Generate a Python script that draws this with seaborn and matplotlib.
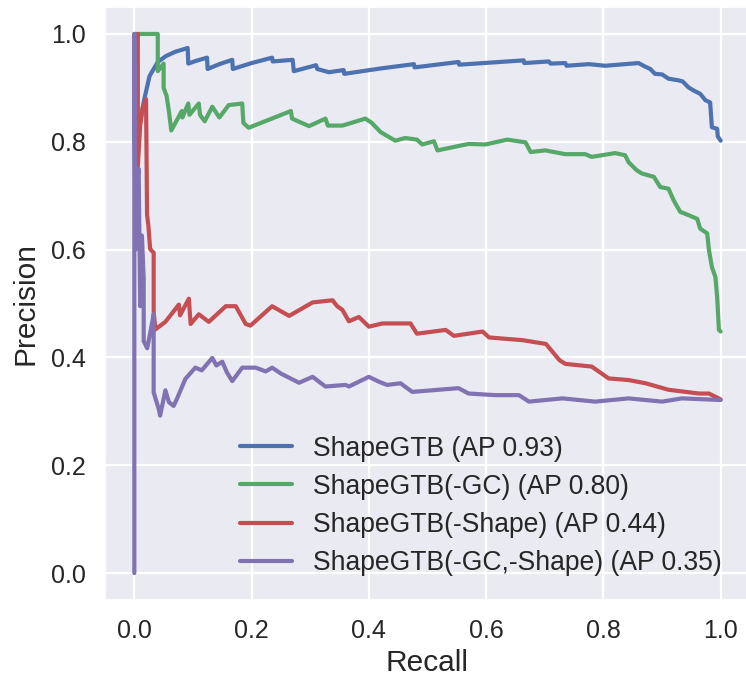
""" Precision-recall curves for ShapeGTB and its ablations. """

import matplotlib as mpl
mpl.use("Agg")
import matplotlib.pyplot as plt
import pandas as pd
import seaborn as sns

# ---- data ----
labels = ["ShapeGTB (AP 0.93)", "ShapeGTB(-GC) (AP 0.80)",
          "ShapeGTB(-Shape) (AP 0.44)", "ShapeGTB(-GC,-Shape) (AP 0.35)"]
colors = ["#4C72B0", "#55A868", "#C44E52", "#8172B2"]

full_recall = [0.0, 0.004, 0.0085, 0.017, 0.026, 0.04, 0.054, 0.07, 0.091, 0.092,
               0.105, 0.124, 0.125, 0.145, 0.167, 0.168, 0.2, 0.235, 0.236, 0.27,
               0.272, 0.31, 0.312, 0.332, 0.357, 0.358, 0.42, 0.477, 0.478, 0.553,
               0.554, 0.664, 0.665, 0.707, 0.71, 0.735, 0.737, 0.775, 0.803, 0.86,
               0.87, 0.88, 0.888, 0.9, 0.911, 0.928, 0.935, 0.945, 0.954, 0.965,
               0.974, 0.982, 0.985, 0.994, 0.995, 1.0]
full_precision = [1.0, 0.78, 0.829, 0.879, 0.922, 0.948, 0.959, 0.967, 0.974, 0.945,
                  0.95, 0.956, 0.935, 0.944, 0.952, 0.935, 0.946, 0.956, 0.949, 0.952,
                  0.931, 0.942, 0.935, 0.929, 0.933, 0.926, 0.936, 0.944, 0.938, 0.948,
                  0.943, 0.951, 0.946, 0.949, 0.945, 0.946, 0.941, 0.944, 0.941, 0.946,
                  0.94, 0.935, 0.926, 0.925, 0.917, 0.914, 0.912, 0.901, 0.895, 0.889,
                  0.877, 0.873, 0.827, 0.824, 0.81, 0.802]

nogc_recall = [0.0, 0.040, 0.040, 0.05, 0.05, 0.055, 0.059, 0.063, 0.081, 0.082,
               0.092, 0.094, 0.11, 0.112, 0.12, 0.133, 0.145, 0.161, 0.184, 0.186,
               0.195, 0.267, 0.269, 0.298, 0.326, 0.33, 0.355, 0.394, 0.405, 0.42,
               0.445, 0.462, 0.482, 0.491, 0.511, 0.517, 0.57, 0.599, 0.636, 0.667,
               0.676, 0.701, 0.735, 0.769, 0.78, 0.82, 0.837, 0.843, 0.857, 0.866,
               0.886, 0.897, 0.911, 0.92, 0.931, 0.945, 0.96, 0.965, 0.977, 0.98,
               0.985, 0.991, 0.994, 0.997, 1.0]
nogc_precision = [1.0, 1.0, 0.931, 0.945, 0.9, 0.885, 0.857, 0.821, 0.857, 0.845,
                  0.871, 0.85, 0.871, 0.85, 0.838, 0.865, 0.845, 0.868, 0.871, 0.835,
                  0.826, 0.857, 0.843, 0.829, 0.843, 0.83, 0.83, 0.843, 0.835, 0.818,
                  0.802, 0.807, 0.804, 0.795, 0.801, 0.784, 0.796, 0.795, 0.804, 0.799,
                  0.781, 0.784, 0.777, 0.777, 0.772, 0.779, 0.775, 0.762, 0.747, 0.741,
                  0.735, 0.716, 0.713, 0.691, 0.67, 0.664, 0.657, 0.639, 0.63, 0.599,
                  0.568, 0.549, 0.512, 0.451, 0.448]

noshape_recall = [0.006, 0.006, 0.01, 0.014, 0.02, 0.0217, 0.024, 0.027, 0.033, 0.033,
                  0.036, 0.053, 0.076, 0.078, 0.093, 0.096, 0.11, 0.127, 0.156, 0.173,
                  0.19, 0.198, 0.235, 0.264, 0.304, 0.338, 0.346, 0.355, 0.366, 0.383,
                  0.4, 0.423, 0.471, 0.482, 0.531, 0.545, 0.594, 0.605, 0.662, 0.702,
                  0.725, 0.735, 0.78, 0.809, 0.843, 0.872, 0.911, 0.963, 0.98, 1.0]
noshape_precision = [1.0, 0.755, 0.83, 0.862, 0.879, 0.665, 0.644, 0.601, 0.594, 0.484,
                     0.452, 0.466, 0.498, 0.478, 0.509, 0.462, 0.48, 0.466, 0.495, 0.495,
                     0.462, 0.459, 0.495, 0.477, 0.502, 0.506, 0.495, 0.488, 0.467, 0.475,
                     0.457, 0.463, 0.463, 0.444, 0.451, 0.44, 0.448, 0.437, 0.432, 0.425,
                     0.395, 0.388, 0.383, 0.361, 0.358, 0.352, 0.34, 0.333, 0.333, 0.322]

base_recall = [0.0, 0.0, 0.002, 0.004, 0.0074, 0.01, 0.013, 0.016, 0.016, 0.022,
               0.027, 0.033, 0.033, 0.042, 0.044, 0.053, 0.059, 0.067, 0.073, 0.087,
               0.104, 0.115, 0.133, 0.14, 0.15, 0.158, 0.167, 0.184, 0.207, 0.224,
               0.235, 0.25, 0.281, 0.304, 0.326, 0.36, 0.366, 0.4, 0.417, 0.431,
               0.454, 0.474, 0.553, 0.57, 0.616, 0.656, 0.673, 0.73, 0.786, 0.843,
               0.9, 0.934, 1.0]
base_precision = [0.0, 1.0, 0.6, 0.72, 0.75, 0.495, 0.626, 0.544, 0.43, 0.417,
                  0.445, 0.48, 0.335, 0.303, 0.292, 0.339, 0.317, 0.31, 0.324, 0.36,
                  0.381, 0.376, 0.399, 0.385, 0.392, 0.372, 0.356, 0.381, 0.381, 0.374,
                  0.381, 0.37, 0.353, 0.364, 0.346, 0.349, 0.346, 0.364, 0.355, 0.349,
                  0.352, 0.336, 0.343, 0.333, 0.33, 0.33, 0.318, 0.324, 0.318, 0.324,
                  0.318, 0.324, 0.321]

curves = [(full_recall, full_precision), (nogc_recall, nogc_precision),
          (noshape_recall, noshape_precision), (base_recall, base_precision)]


def main():
    sns.set_theme(style="darkgrid")
    plt.rcParams["font.family"] = ["Liberation Sans", "DejaVu Sans"]
    plt.rcParams["grid.linewidth"] = 1.6

    fig = plt.figure(figsize=(7.46, 6.77), dpi=100)
    ax = fig.add_axes([105 / 746, 77 / 677, 645 / 746, 593 / 677])

    for (rec, prec), label, color in zip(curves, labels, colors):
        df = pd.DataFrame({"Recall": rec, "Precision": prec})
        sns.lineplot(data=df, x="Recall", y="Precision", sort=False,
                     estimator=None, color=color, linewidth=3.0,
                     label=label, ax=ax)

    ax.set_xlim(-0.05, 1.05)
    ax.set_ylim(-0.05, 1.05)
    ax.set_xticks([0.0, 0.2, 0.4, 0.6, 0.8, 1.0])
    ax.set_yticks([0.0, 0.2, 0.4, 0.6, 0.8, 1.0])
    ax.tick_params(labelsize=18, pad=8)
    ax.set_xlabel("Recall", fontsize=21.5, labelpad=4)
    ax.set_ylabel("Precision", fontsize=21.5, labelpad=8)

    ax.legend(loc="lower right", bbox_to_anchor=(0.993, 0.0), frameon=False,
              fontsize=19.1, handlelength=1.95, handletextpad=0.8,
              labelspacing=0.46)

    fig.savefig("out.png", dpi=100)


if __name__ == "__main__":
    main()
